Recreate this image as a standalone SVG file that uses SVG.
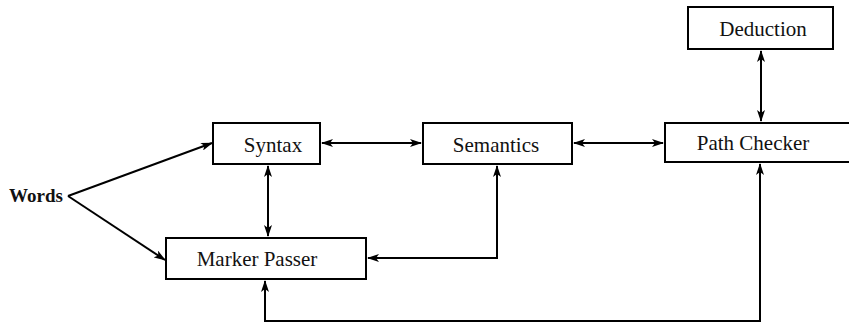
<svg xmlns="http://www.w3.org/2000/svg" width="849" height="323" viewBox="0 0 849 323">
<style>
.box{fill:#fff;stroke:#000;stroke-width:2}
.lbl{font-family:"Liberation Serif","Times New Roman",serif;font-size:21px;fill:#111;text-anchor:middle}
.ln{fill:none;stroke:#000;stroke-width:2}
</style>
<defs>
<marker id="ah" viewBox="0 0 12 8" refX="11" refY="4" markerWidth="12" markerHeight="8" markerUnits="userSpaceOnUse" orient="auto-start-reverse">
<path d="M0,0 L12,4 L0,8 L3,4 z" fill="#000"/>
</marker>
</defs>
<rect width="849" height="323" fill="#fff"/>
<g id="connectors">
<line class="ln" x1="68" y1="196" x2="212" y2="143" marker-end="url(#ah)"/>
<line class="ln" x1="68" y1="196" x2="165" y2="260" marker-end="url(#ah)"/>
<line class="ln" x1="322" y1="143" x2="421" y2="143" marker-start="url(#ah)" marker-end="url(#ah)"/>
<line class="ln" x1="574" y1="143" x2="663" y2="143" marker-start="url(#ah)" marker-end="url(#ah)"/>
<line class="ln" x1="761" y1="51" x2="761" y2="121" marker-start="url(#ah)" marker-end="url(#ah)"/>
<line class="ln" x1="268" y1="166" x2="268" y2="236" marker-start="url(#ah)" marker-end="url(#ah)"/>
<polyline class="ln" points="368,258 497,258 497,166" marker-start="url(#ah)" marker-end="url(#ah)"/>
<polyline class="ln" points="265,281 265,321 760,321 760,164" marker-start="url(#ah)" marker-end="url(#ah)"/>
</g>
<g id="words"><text x="36" y="202" class="lbl" style="font-weight:bold;font-size:19px">Words</text></g>
<g id="syntax"><rect class="box" x="213" y="123" width="107" height="41"/><text class="lbl" x="273" y="152">Syntax</text></g>
<g id="semantics"><rect class="box" x="423" y="123" width="149" height="41"/><text class="lbl" x="496" y="152">Semantics</text></g>
<g id="pathchecker"><rect class="box" x="665" y="123" width="190" height="39"/><text class="lbl" x="753" y="150">Path Checker</text></g>
<g id="deduction"><rect class="box" x="688" y="7" width="145" height="42"/><text class="lbl" x="763" y="36">Deduction</text></g>
<g id="markerpasser"><rect class="box" x="166" y="238" width="200" height="41"/><text class="lbl" x="257" y="266">Marker Passer</text></g>
</svg>
